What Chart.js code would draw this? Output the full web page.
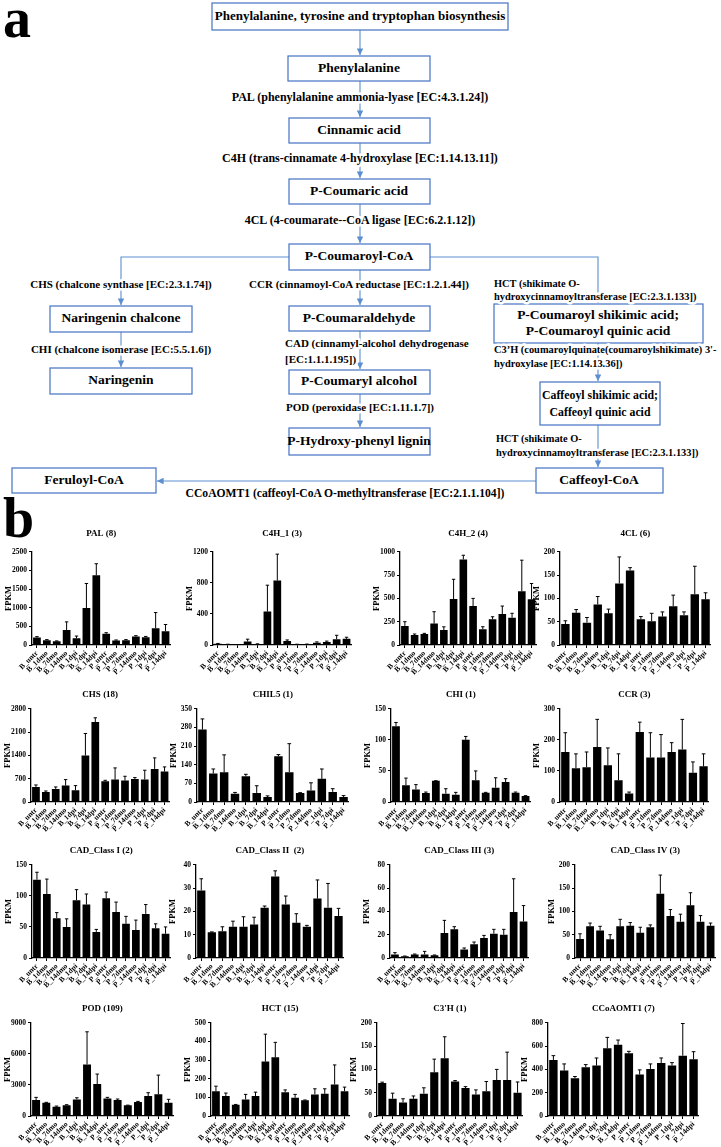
<!DOCTYPE html>
<html>
<head>
<meta charset="utf-8">
<script src="https://cdn.jsdelivr.net/npm/chart.js@4.4.1/dist/chart.umd.min.js"></script>
<style>
  body { margin: 0; background: #fff; width: 721px; height: 1147px; position: relative; overflow: hidden; }
  #path { position: absolute; left: 0; top: 0; }
  #path text { font-family: 'Liberation Serif', 'Times New Roman', serif; font-weight: bold; fill: #000; }
  #path .bx { font-size: 13.5px; }
  #path .en { font-size: 11px; paint-order: stroke; stroke: #fff; stroke-width: 5px; stroke-linejoin: round; }
  #path .big { font-size: 12px; }
  #path .sm { font-size: 10.4px; }
  #path rect { fill: #fff; stroke: #4472c4; stroke-width: 1.2; }
  #path line, #path polyline { stroke: #5b8fd0; stroke-width: 1.1; fill: none; }
  .panel { position: absolute; font-family: 'Liberation Serif', serif; font-weight: bold; font-size: 56px; line-height: 1; }
  canvas { position: absolute; }
</style>
</head>
<body>
<div class="panel" style="left:3px;top:-10px">a</div>
<div class="panel" style="left:3px;top:490px">b</div>

<svg id="path" width="721" height="500">
  <defs>
    <marker id="ah" viewBox="0 0 10 10" refX="10" refY="5" markerWidth="6" markerHeight="6" orient="auto">
      <path d="M0,0 L10,5 L0,10 z" fill="#5b8fd0"/>
    </marker>
  </defs>
  <!-- connectors -->
  <line x1="360" y1="30" x2="360" y2="55" marker-end="url(#ah)"/>
  <line x1="360" y1="81" x2="360" y2="117" marker-end="url(#ah)"/>
  <line x1="360" y1="143" x2="360" y2="178" marker-end="url(#ah)"/>
  <line x1="360" y1="204" x2="360" y2="243" marker-end="url(#ah)"/>
  <polyline points="289,257 121,257 121,305" marker-end="url(#ah)"/>
  <line x1="360" y1="270" x2="360" y2="305" marker-end="url(#ah)"/>
  <polyline points="430,257 598,257 598,303" marker-end="url(#ah)"/>
  <line x1="121" y1="332" x2="121" y2="367" marker-end="url(#ah)"/>
  <line x1="360" y1="331" x2="360" y2="369" marker-end="url(#ah)"/>
  <line x1="598" y1="343" x2="598" y2="381" marker-end="url(#ah)"/>
  <line x1="360" y1="394" x2="360" y2="427" marker-end="url(#ah)"/>
  <line x1="598" y1="425" x2="598" y2="467" marker-end="url(#ah)"/>
  <line x1="536" y1="481" x2="157" y2="481" marker-end="url(#ah)"/>

  <!-- boxes -->
  <rect x="212" y="3" width="296" height="27"/>
  <rect x="288" y="56" width="142" height="25"/>
  <rect x="289" y="118" width="141" height="25"/>
  <rect x="289" y="179" width="141" height="25"/>
  <rect x="289" y="244" width="141" height="26"/>
  <rect x="50" y="306" width="142" height="26"/>
  <rect x="289" y="306" width="141" height="25"/>
  <rect x="494" y="304" width="209" height="39"/>
  <rect x="50" y="368" width="142" height="26"/>
  <rect x="289" y="370" width="141" height="24"/>
  <rect x="540" y="382" width="120" height="43"/>
  <rect x="289" y="428" width="141" height="27"/>
  <rect x="536" y="468" width="127" height="25"/>
  <rect x="12" y="468" width="144" height="25"/>

  <g class="bx" text-anchor="middle" dominant-baseline="middle">
    <text x="360" y="17" style="font-size:13px">Phenylalanine, tyrosine and tryptophan biosynthesis</text>
    <text x="359" y="69">Phenylalanine</text>
    <text x="359" y="131">Cinnamic acid</text>
    <text x="359" y="192">P-Coumaric acid</text>
    <text x="359" y="257">P-Coumaroyl-CoA</text>
    <text x="121" y="319">Naringenin chalcone</text>
    <text x="359" y="319">P-Coumaraldehyde</text>
    <text x="598" y="316">P-Coumaroyl shikimic acid;</text>
    <text x="598" y="332">P-Coumaroyl quinic acid</text>
    <text x="121" y="381">Naringenin</text>
    <text x="359" y="382">P-Coumaryl alcohol</text>
    <text x="600" y="396" style="font-size:11.8px">Caffeoyl shikimic acid;</text>
    <text x="600" y="413" style="font-size:11.8px">Caffeoyl quinic acid</text>
    <text x="359" y="442">P-Hydroxy-phenyl lignin</text>
    <text x="599" y="481">Caffeoyl-CoA</text>
    <text x="84" y="481">Feruloyl-CoA</text>
  </g>

  <g class="en" dominant-baseline="middle">
    <text class="big" x="360" y="98" text-anchor="middle">PAL (phenylalanine ammonia-lyase [EC:4.3.1.24])</text>
    <text class="big" x="360" y="159" text-anchor="middle">C4H (trans-cinnamate 4-hydroxylase [EC:1.14.13.11])</text>
    <text class="big" x="360" y="221" text-anchor="middle">4CL (4-coumarate--CoA ligase [EC:6.2.1.12])</text>
    <text x="121" y="285" text-anchor="middle">CHS (chalcone synthase [EC:2.3.1.74])</text>
    <text x="359" y="285" text-anchor="middle">CCR (cinnamoyl-CoA reductase [EC:1.2.1.44])</text>
    <text class="sm" x="494" y="285">HCT (shikimate O-</text>
    <text class="sm" x="494" y="298">hydroxycinnamoyltransferase [EC:2.3.1.133])</text>
    <text x="121" y="350" text-anchor="middle">CHI (chalcone isomerase [EC:5.5.1.6])</text>
    <text x="285" y="344">CAD (cinnamyl-alcohol dehydrogenase</text>
    <text x="285" y="360">[EC:1.1.1.195])</text>
    <text class="sm" x="494" y="351">C3’H (coumaroylquinate(coumaroylshikimate) 3'-</text>
    <text class="sm" x="494" y="365">hydroxylase [EC:1.14.13.36])</text>
    <text x="360" y="408" text-anchor="middle">POD (peroxidase [EC:1.11.1.7])</text>
    <text class="sm" x="496" y="440">HCT (shikimate O-</text>
    <text class="sm" x="496" y="454">hydroxycinnamoyltransferase [EC:2.3.1.133])</text>
    <text x="345" y="494" text-anchor="middle" style="font-size:11.6px">CCoAOMT1 (caffeoyl-CoA O-methyltransferase [EC:2.1.1.104])</text>
  </g>
</svg>

<script>
// sample groups on the x axis
var groups = ['B_untr', 'B_1dmo', 'B_7dmo', 'B_14dmo', 'B_1dpi', 'B_7dpi', 'B_14dpi',
              'P_untr', 'P_1dmo', 'P_7dmo', 'P_14dmo', 'P_1dpi', 'P_7dpi', 'P_14dpi'];

// mean FPKM and error (upper whisker) per gene family
var palVals = [200, 130, 100, 400, 180, 990, 1870, 300, 120, 130, 230, 210, 450, 370];
var palErr = [25, 15, 10, 220, 60, 660, 310, 30, 15, 15, 20, 20, 420, 180];
var c4h1Vals = [15, 8, 5, 45, 12, 430, 830, 50, 8, 10, 30, 40, 75, 80];
var c4h1Err = [5, 2, 1, 30, 3, 340, 340, 15, 2, 2, 10, 10, 50, 20];
var c4h2Vals = [205, 107, 118, 230, 160, 493, 918, 418, 168, 275, 332, 293, 578, 490];
var c4h2Err = [45, 11, 7, 127, 35, 212, 45, 82, 28, 28, 86, 47, 332, 170];
var cl4Vals = [45, 69, 48, 87, 68, 132, 160, 55, 51, 61, 83, 64, 109, 98];
var cl4Err = [7, 7, 11, 17, 9, 57, 6, 6, 17, 10, 24, 7, 60, 14];
var chsVals = [452, 301, 392, 492, 351, 1396, 2400, 622, 673, 643, 693, 673, 994, 914];
var chsErr = [60, 30, 60, 181, 141, 662, 130, 30, 351, 130, 40, 281, 331, 140];
var chil5Vals = [272, 107, 112, 31, 97, 34, 19, 172, 112, 34, 43, 87, 38, 19];
var chil5Err = [40, 17, 65, 5, 7, 27, 4, 6, 107, 1, 29, 37, 12, 5];
var chiVals = [122, 27, 20, 14.5, 34, 13.4, 11.8, 100, 35, 15, 23, 32, 15, 9.6];
var chiErr = [6, 11.5, 8, 1.5, 0.3, 8, 3.7, 5.5, 15, 0.5, 16, 5.5, 1, 0.6];
var ccrVals = [161, 109, 112, 177, 118, 70, 27, 225, 143, 143, 161, 169, 94, 115];
var ccrErr = [62, 46, 49, 89, 56, 85, 5, 32, 80, 74, 30, 97, 35, 40];
var cad1Vals = [126, 103, 64, 50, 93, 86, 42, 96, 74, 55, 45, 71, 48, 39];
var cad1Err = [12, 24, 9, 13, 17, 17, 4, 10, 16, 12, 16, 15, 7, 11];
var cad2Vals = [29, 11, 11.5, 13.4, 13.4, 14.4, 21.6, 35, 23, 15.1, 13.4, 25.5, 21.6, 18];
var cad2Err = [5, 0.2, 1.9, 2.4, 4.3, 3.1, 0.7, 2.4, 3.6, 3.9, 0.6, 8, 10.4, 3.3];
var cad3Vals = [3.1, 1.4, 2.9, 3.1, 2.3, 21.4, 24.6, 7.4, 11.7, 17.1, 20.9, 20, 39.4, 31.4];
var cad3Err = [1.5, 0.3, 0.5, 2.6, 0.3, 10.9, 2.3, 1.2, 2, 2.3, 3.7, 4.6, 28.6, 13.6];
var cad4Vals = [41, 68, 59, 40, 68, 69, 54, 66, 138, 90, 78, 113, 78, 69];
var cad4Err = [11, 7, 9, 10, 15, 7, 12, 5, 40, 14, 16, 27, 13, 6];
var podVals = [1540, 1290, 900, 1030, 1600, 4980, 3090, 1700, 1540, 1030, 1350, 1930, 2090, 1290];
var podErr = [260, 30, 60, 60, 160, 3150, 960, 100, 100, 20, 60, 320, 1860, 320];
var hctVals = [133, 107, 60, 89, 107, 292, 315, 128, 98, 84, 116, 119, 169, 133];
var hctErr = [27, 16, 2, 27, 21, 147, 80, 12, 18, 2, 30, 27, 105, 22];
var c3hVals = [71, 37, 29, 37, 48, 94, 124, 74, 60, 46, 53, 77, 77, 50];
var c3hErr = [1.6, 12, 8, 6, 12.5, 28, 46, 2, 3, 10, 21, 23, 60, 23];
var ccoaVals = [481, 390, 325, 418, 433, 581, 612, 538, 356, 404, 455, 433, 518, 487];
var ccoaErr = [37, 57, 14, 23, 65, 94, 40, 17, 40, 43, 43, 25, 276, 65];

var serif = "'Liberation Serif', 'Times New Roman', serif";

// title, values, errors, axis max, step, [axis x, plot right, plot top, plot bottom], title gap
var panels = [
  ['PAL (8)', palVals, palErr, 2500, 500, [32, 171, 552, 645], 13],
  ['C4H_1 (3)', c4h1Vals, c4h1Err, 1200, 400, [213, 351, 552, 645], 13],
  ['C4H_2 (4)', c4h2Vals, c4h2Err, 1000, 250, [400, 536, 552, 645], 13],
  ['4CL (6)', cl4Vals, cl4Err, 200, 50, [560, 711, 552, 645], 13],
  ['CHS (18)', chsVals, chsErr, 2800, 700, [31, 169, 709, 802], 9],
  ['CHIL5 (1)', chil5Vals, chil5Err, 350, 70, [197, 349, 709, 802], 9],
  ['CHI (1)', chiVals, chiErr, 150, 50, [391, 531, 709, 802], 9],
  ['CCR (3)', ccrVals, ccrErr, 300, 100, [560, 709, 709, 802], 9],
  ['CAD_Class I (2)', cad1Vals, cad1Err, 150, 50, [32, 171, 865, 958], 9],
  ['CAD_Class II  (2)', cad2Vals, cad2Err, 40, 10, [196, 344, 865, 958], 9],
  ['CAD_Class III (3)', cad3Vals, cad3Err, 80, 20, [390, 529, 865, 958], 9],
  ['CAD_Class IV (3)', cad4Vals, cad4Err, 200, 50, [575, 716, 865, 958], 9],
  ['POD (109)', podVals, podErr, 9000, 3000, [31, 174, 1023, 1116], 9],
  ['HCT (15)', hctVals, hctErr, 500, 100, [211, 349, 1023, 1116], 9],
  ["C3'H (1)", c3hVals, c3hErr, 200, 50, [377, 523, 1023, 1116], 9],
  ['CCoAOMT1 (7)', ccoaVals, ccoaErr, 800, 200, [548, 699, 1023, 1116], 9]
];

// upper whiskers with a cap, Prism style
var errorBars = {
  id: 'errorBars',
  afterDatasetsDraw: function (chart) {
    var ctx = chart.ctx;
    var ds = chart.data.datasets[0];
    var y = chart.scales.y;
    ctx.save();
    ctx.strokeStyle = '#000';
    ctx.lineWidth = 1;
    chart.getDatasetMeta(0).data.forEach(function (bar, i) {
      var top = y.getPixelForValue(ds.data[i] + ds.errors[i]);
      var cap = bar.width * 0.22;
      ctx.beginPath();
      ctx.moveTo(bar.x, bar.y);
      ctx.lineTo(bar.x, top);
      ctx.moveTo(bar.x - cap, top);
      ctx.lineTo(bar.x + cap, top);
      ctx.stroke();
    });
    ctx.restore();
  }
};

panels.forEach(function (p) {
  var box = { left: p[5][0], right: p[5][1], top: p[5][2], bottom: p[5][3] };
  var cv = document.createElement('canvas');
  cv.width = 28 + (box.right - box.left) + 2;
  cv.height = Math.round(10.8 + p[6] + (box.bottom - box.top) + 42);
  document.body.appendChild(cv);

  var chart = new Chart(cv, {
    type: 'bar',
    data: {
      labels: groups,
      datasets: [{
        data: p[1],
        errors: p[2],
        backgroundColor: '#000',
        borderWidth: 0,
        barPercentage: 0.78,
        categoryPercentage: 1
      }]
    },
    options: {
      responsive: false,
      maintainAspectRatio: false,
      animation: false,
      events: [],
      layout: { padding: { left: 0, right: 2, top: 0, bottom: 0 } },
      plugins: {
        legend: { display: false },
        tooltip: { enabled: false },
        title: {
          display: true,
          text: p[0],
          fullSize: false,
          color: '#000',
          font: { family: serif, size: 9, weight: 'bold' },
          padding: { top: 0, bottom: p[6] }
        }
      },
      scales: {
        x: {
          grid: { display: true, drawOnChartArea: false, offset: false, color: '#000', tickLength: 3 },
          border: { color: '#000', width: 1.3 },
          ticks: { color: '#000', font: { family: serif, size: 7.5, weight: 'bold' },
                   minRotation: 45, maxRotation: 45, autoSkip: false, padding: 1 },
          afterFit: function (s) { s.height = 42; }
        },
        y: {
          min: 0,
          max: p[3],
          grid: { display: true, drawOnChartArea: false, color: '#000', tickLength: 3 },
          border: { color: '#000', width: 1.3 },
          ticks: { stepSize: p[4], color: '#000', padding: 2,
                   font: { family: serif, size: 7.5, weight: 'bold' },
                   callback: function (v) { return String(v); } },
          title: { display: true, text: 'FPKM', color: '#000',
                   font: { family: serif, size: 8.5, weight: 'bold' }, padding: { top: 0, bottom: 2 } },
          afterFit: function (s) { s.width = 28; }
        }
      }
    },
    plugins: [errorBars]
  });

  // nudge the canvas size so the plot area lands on the reference box
  for (var k = 0; k < 2; k++) {
    var a = chart.chartArea;
    var dw = (box.right - box.left) - (a.right - a.left);
    var dh = (box.bottom - box.top) - (a.bottom - a.top);
    if (Math.abs(dw) < 0.5 && Math.abs(dh) < 0.5) break;
    chart.resize(Math.round(chart.width + dw), Math.round(chart.height + dh));
  }
  var area = chart.chartArea;
  cv.style.left = (box.left - area.left) + 'px';
  cv.style.top = (box.top - area.top) + 'px';
});
</script>
</body>
</html>
